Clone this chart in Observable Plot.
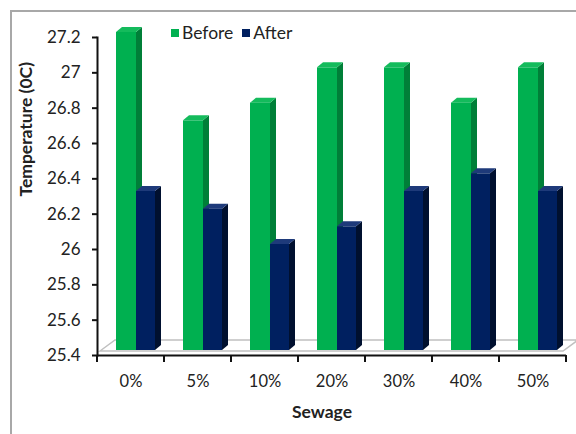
<!DOCTYPE html>
<html>
<head>
<meta charset="utf-8">
<script src="https://cdn.jsdelivr.net/npm/d3@7"></script>
<script src="https://cdn.jsdelivr.net/npm/@observablehq/plot@0.6"></script>
<style>
  body { margin: 0; background: #fff; font-family: Lato, "Open Sans", sans-serif; }
  #wrap { position: relative; width: 576px; height: 434px; overflow: hidden; }
  #chart svg { display: block; }
  #border { position: absolute; left: 10px; top: 10px; right: -5px; bottom: -5px;
            border-left: 2px solid #a8a8a8; border-top: 2px solid #a8a8a8; pointer-events: none; }
  #legend { position: absolute; left: 171px; top: 23px; display: flex; align-items: center;
            font-size: 17.5px; color: #222; line-height: 20px; }
  #legend .item { display: flex; align-items: center; margin-right: 9px; }
  #legend .sw { width: 8px; height: 8px; display: inline-block; margin-right: 3px; }
</style>
</head>
<body>
<div id="wrap">
  <div id="chart"></div>
  <div id="legend"></div>
  <div id="border"></div>
</div>
<script>
// Sewage share and water temperature before / after treatment
const categories = ["0%", "5%", "10%", "20%", "30%", "40%", "50%"];
const before = [27.2, 26.7, 26.8, 27.0, 27.0, 26.8, 27.0];
const after = [26.3, 26.2, 26.0, 26.1, 26.3, 26.4, 26.3];
const seriesNames = ["Before", "After"];
const yTicks = [25.4, 25.6, 25.8, 26, 26.2, 26.4, 26.6, 26.8, 27, 27.2];

const palette = {
  Before: {front: "#00b050", side: "#007f38", top: "#14bb5c"},
  After: {front: "#002060", side: "#00102f", top: "#1e3a7a"}
};

const rowsBefore = categories.map((c, i) => ({cat: c, value: before[i], series: "Before"}));
const rowsAfter = categories.map((c, i) => ({cat: c, value: after[i], series: "After"}));

// 3D geometry (pixels): bars lifted above the floor edge, depth offset to the upper right
const lift = 5, depthX = 6, depthY = 5;
const inset = {Before: [19, 28], After: [39, 9]};

// floor plane under the bars, and category separators on the x axis
function floorMark(index, scales) {
  const g = d3.create("svg:g");
  const [xa, xb] = scales.x.range();
  const base = scales.y(yTicks[0]);
  const pts = [[xa + 3, base - 4], [xa + 18, base - 15], [xb + 12, base - 15], [xb - 3, base - 4]];
  g.append("polygon").attr("points", pts.map(p => p.join(",")).join(" "))
    .attr("fill", "#fff").attr("stroke", "#c0c0c0").attr("stroke-width", 1.5);
  const bw = scales.x.bandwidth();
  const edges = categories.map(c => scales.x(c)).concat([scales.x(categories[categories.length - 1]) + bw]);
  for (const x of edges) {
    g.append("line").attr("x1", x).attr("x2", x).attr("y1", base).attr("y2", base + 7)
      .attr("stroke", "#111").attr("stroke-width", 2);
  }
  return g.node();
}

// side and top faces of the bars of one series
function facesMark(rows, name) {
  return (index, scales) => {
    const g = d3.create("svg:g");
    const bw = scales.x.bandwidth();
    const base = scales.y(yTicks[0]) - lift;
    const [il, ir] = inset[name];
    for (const r of rows) {
      const x0 = scales.x(r.cat) + il, x1 = scales.x(r.cat) + bw - ir;
      const yt = scales.y(r.value) - lift;
      const side = [[x1, yt], [x1 + depthX, yt - depthY], [x1 + depthX, base - depthY], [x1, base]];
      const top = [[x0, yt], [x0 + depthX, yt - depthY], [x1 + depthX, yt - depthY], [x1, yt]];
      g.append("polygon").attr("points", side.map(p => p.join(",")).join(" ")).attr("fill", palette[name].side);
      g.append("polygon").attr("points", top.map(p => p.join(",")).join(" ")).attr("fill", palette[name].top);
    }
    return g.node();
  };
}

function frontBars(rows, name) {
  return Plot.rectY(rows, {
    x: "cat", y1: yTicks[0], y2: "value",
    insetLeft: inset[name][0], insetRight: inset[name][1],
    dy: -lift, fill: palette[name].front
  });
}

const chart = Plot.plot({
  width: 576,
  height: 434,
  marginTop: 37,
  marginBottom: 79,
  marginLeft: 97,
  marginRight: 10,
  style: {fontFamily: "Lato, 'Open Sans', sans-serif", fontSize: "17px", color: "#222", background: "transparent"},
  x: {type: "band", domain: categories, padding: 0},
  y: {domain: [yTicks[0], yTicks[yTicks.length - 1]]},
  marks: [
    floorMark,
    facesMark(rowsBefore, "Before"),
    frontBars(rowsBefore, "Before"),
    facesMark(rowsAfter, "After"),
    frontBars(rowsAfter, "After"),
    Plot.ruleY([yTicks[0]], {stroke: "#111", strokeWidth: 2}),
    Plot.frame({anchor: "left", stroke: "#111", strokeWidth: 2}),
    Plot.axisY({ticks: yTicks, tickFormat: d => String(+d.toFixed(1)), tickSize: 5, tickPadding: 12,
                strokeWidth: 2, stroke: "#111", label: null, fontSize: 17}),
    Plot.axisX({tickSize: 0, tickPadding: 20, label: null, fontSize: 16.5}),
    Plot.text(["Temperature (0C)"], {frameAnchor: "left", rotate: -90, dx: -71, fontWeight: "bold", fontSize: 17.5, fill: "#222"}),
    Plot.text(["Sewage"], {frameAnchor: "bottom", dx: -10, dy: 62, fontWeight: "bold", fontSize: 17.5, fill: "#222"})
  ]
});
document.getElementById("chart").append(chart);

const legend = document.getElementById("legend");
for (const name of seriesNames) {
  const item = document.createElement("span");
  item.className = "item";
  const sw = document.createElement("span");
  sw.className = "sw";
  sw.style.background = palette[name].front;
  item.append(sw, document.createTextNode(name));
  legend.append(item);
}
</script>
</body>
</html>
